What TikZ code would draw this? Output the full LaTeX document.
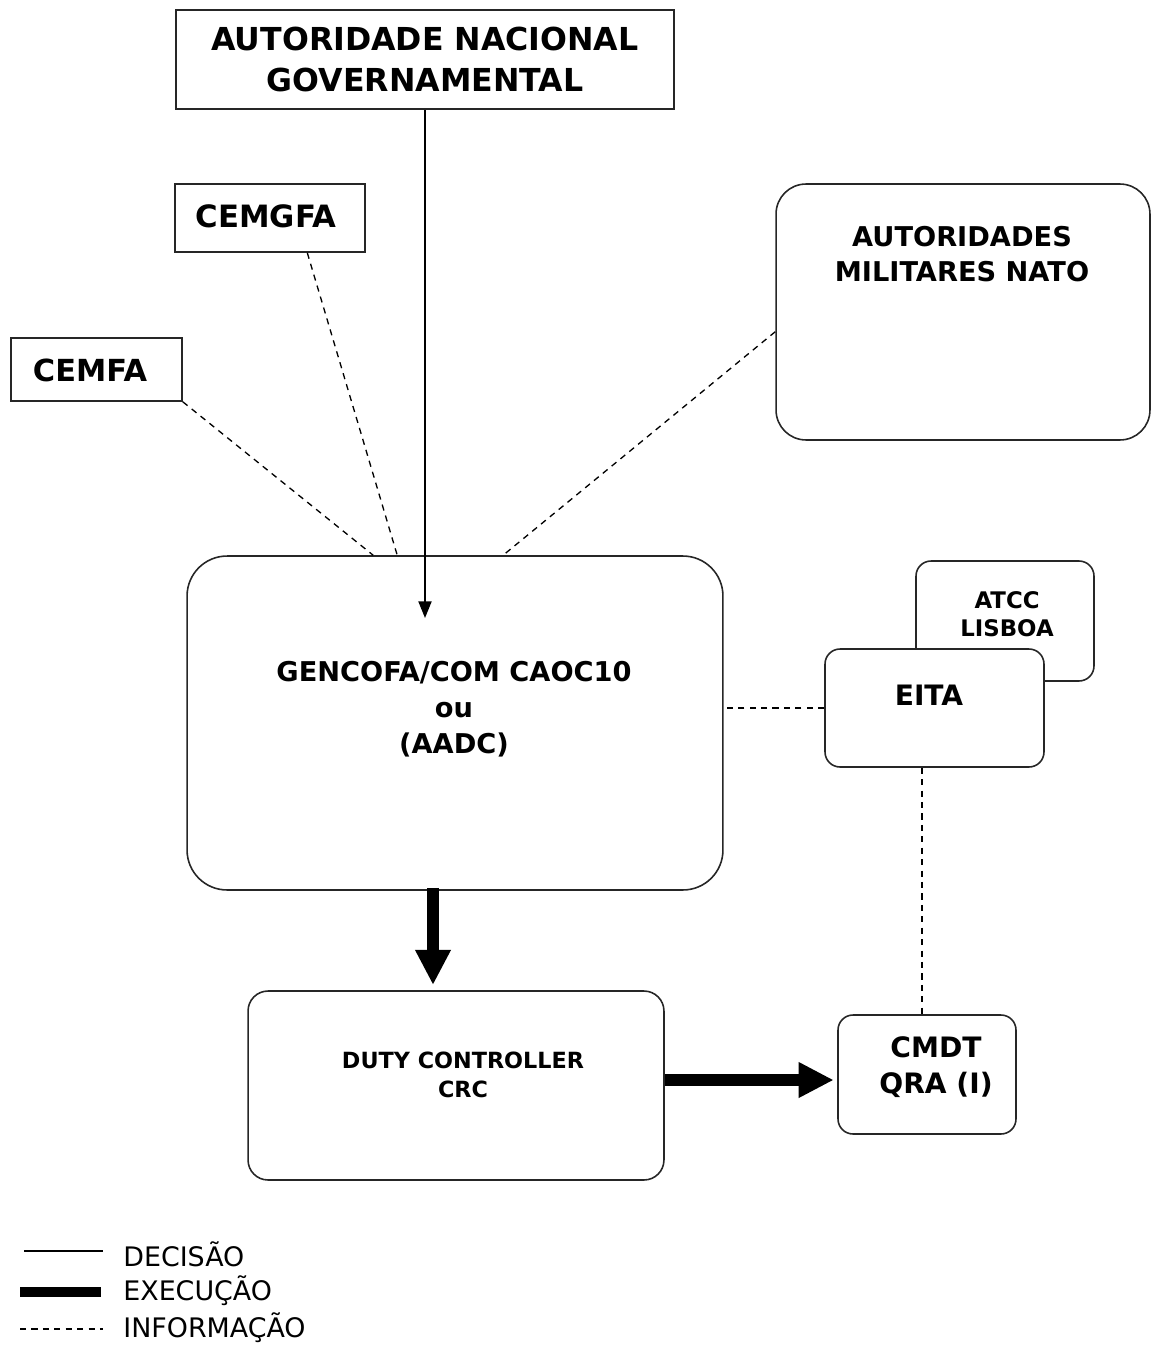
\documentclass[tikz,border=0pt]{standalone}
\usepackage{fontspec}
\setmainfont{DejaVu Sans}
\usetikzlibrary{arrows.meta}
\definecolor{BoxLine}{HTML}{262626}

\begin{document}
\begin{tikzpicture}[x=0.02cm,y=-0.02cm,
  box/.style={draw=BoxLine,line width=0.9pt,inner sep=0pt,align=center,fill=white},
  txt/.style 2 args={align=center,inner sep=0pt,font=\fontsize{#1}{#2}\selectfont\bfseries},
  decisao/.style={line width=0.85pt,-{Triangle[length=9.5pt,width=7.5pt]}},
  execucao/.style={line width=6.8pt,-{Triangle[length=20pt,width=19pt]}},
  informacao/.style={line width=0.75pt,dash pattern=on 3.5pt off 3pt},
  legenda/.style={anchor=west,inner sep=0pt,font=\fontsize{15.3}{18}\selectfont}]
\path[use as bounding box] (0,0) rectangle (1150,1345);

% boxes
\node[box,minimum width=9.96cm,minimum height=1.98cm,
  font=\fontsize{18}{22.8}\selectfont\bfseries] (gov) at (425,59.5)
  {AUTORIDADE NACIONAL\\GOVERNAMENTAL};
\node[box,minimum width=3.8cm,minimum height=1.36cm] (cemgfa) at (270,218) {};
\node[txt={17.5}{21}] (cemgfatxt) at (266,216) {CEMGFA};
\node[box,minimum width=3.42cm,minimum height=1.26cm] (cemfa) at (96.5,369.5) {};
\node[txt={17.3}{21}] (cemfatxt) at (90,370) {CEMFA};
\node[box,rounded corners=0.6cm,minimum width=7.48cm,minimum height=5.12cm] (nato) at (963,312) {};
\node[txt={15.5}{20}] (natotxt) at (962,254) {AUTORIDADES\\MILITARES NATO};
\node[box,rounded corners=0.8cm,minimum width=10.72cm,minimum height=6.68cm] (gencofa) at (455,723) {};
\node[txt={15.5}{20.5}] (gencofatxt) at (454,709) {GENCOFA/COM CAOC10\\ou\\(AADC)};
\node[box,rounded corners=0.3cm,minimum width=3.56cm,minimum height=2.4cm] (atcc) at (1005,621) {};
\node[txt={13}{16}] (atcctxt) at (1007,614) {ATCC\\LISBOA};
\node[box,rounded corners=0.3cm,minimum width=4.38cm,minimum height=2.36cm] (eita) at (934.5,708) {};
\node[txt={16}{20}] (eitatxt) at (929,695) {EITA};
\node[box,rounded corners=0.4cm,minimum width=8.32cm,minimum height=3.78cm] (duty) at (456,1085.5) {};
\node[txt={12.7}{16.5}] (dutytxt) at (463,1075) {DUTY CONTROLLER\\CRC};
\node[box,rounded corners=0.3cm,minimum width=3.56cm,minimum height=2.38cm] (cmdt) at (927,1074.5) {};
\node[txt={16}{20.5}] (cmdttxt) at (936,1067) {CMDT\\QRA (I)};

% connectors
\coordinate (govend) at (425,618);
\draw[decisao] (gov.south) -- (govend);
\draw[informacao] (cemgfa.-43) -- (gencofa.109);
\draw[informacao] (cemfa.south east) -- (gencofa.116);
\draw[informacao] (nato.186) -- (gencofa.74);
\draw[informacao] (eita.west) -- (eita.west -| gencofa.east);
\draw[informacao] ([xshift=-0.25cm]eita.south) -- ([xshift=-0.25cm]eita.south |- cmdt.north);
\draw[execucao,shorten >=3pt] ([xshift=-0.44cm,yshift=0.06cm]gencofa.south) -- ([xshift=-0.44cm]gencofa.south |- duty.north);
\draw[execucao,shorten >=2pt] ([yshift=0.11cm]duty.east) -- ([yshift=0.11cm]duty.east -| cmdt.west);

% legenda
\node[legenda] (legdec) at (123,1254) {DECISÃO};
\node[legenda] (legexe) at (123,1291) {EXECUÇÃO};
\node[legenda] (leginf) at (123,1328) {INFORMAÇÃO};
\draw[line width=0.85pt] (24,1251) -- (103,1251);
\draw[line width=5.7pt] (20,1292) -- (101,1292);
\draw[informacao] (20,1329) -- (103,1329);
\end{tikzpicture}
\end{document}
